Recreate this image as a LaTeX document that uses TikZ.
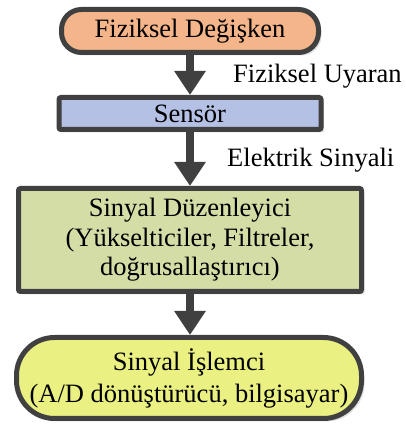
\documentclass[tikz,border=0pt]{standalone}
\usepackage{fontspec}
\setmainfont{Liberation Serif}
\usetikzlibrary{arrows.meta,shadows}

\definecolor{edge}{HTML}{404040}
\definecolor{peach}{HTML}{F3B589}
\definecolor{lilac}{HTML}{B4C0E4}
\definecolor{olive}{HTML}{D5DDA7}
\definecolor{lemon}{HTML}{EAF081}

\begin{document}
\begin{tikzpicture}[x=1pt,y=1pt,
  box/.style={draw=edge,line width=5pt,inner sep=0pt,align=center,
    font=\fontsize{26.5}{29.5}\selectfont,
    drop shadow={shadow xshift=3pt,shadow yshift=-3pt,opacity=0.25}},
  flow/.style={draw=edge,line width=8pt,-{Triangle[width=30pt,length=24pt]}},
  note/.style={anchor=base west,inner sep=0pt,font=\fontsize{26.5}{29.5}\selectfont}]
\useasboundingbox (0,0) rectangle (406,424);
\path (190,393) node [box,fill=peach,rounded corners=20pt,
  minimum width=257pt,minimum height=43pt] (fiziksel) {Fiziksel Değişken};
\path (190,310.5) node [box,fill=lilac,rounded corners=2pt,
  minimum width=262pt,minimum height=32pt] (sensor) {Sensör};
\path (190,184) node [box,fill=olive,rounded corners=2pt,
  minimum width=343pt,minimum height=103pt] (duzenleyici)
  {Sinyal Düzenleyici\\(Yükselticiler, Filtreler,\\doğrusallaştırıcı)};
\path (189,46) node [box,fill=lemon,rounded corners=38pt,
  font=\fontsize{26.5}{32}\selectfont,
  minimum width=345pt,minimum height=81pt] (islemci)
  {Sinyal İşlemci\\(A/D dönüştürücü, bilgisayar)};
\path (233,341) node [note] (uyaran) {Fiziksel Uyaran};
\path (227,257) node [note] (elektrik) {Elektrik Sinyali};
\draw [flow] (fiziksel) -- (sensor);
\draw [flow] (sensor) -- (duzenleyici);
\draw [flow] (duzenleyici.south) -- (duzenleyici.south |- islemci.north);
\end{tikzpicture}
\end{document}
